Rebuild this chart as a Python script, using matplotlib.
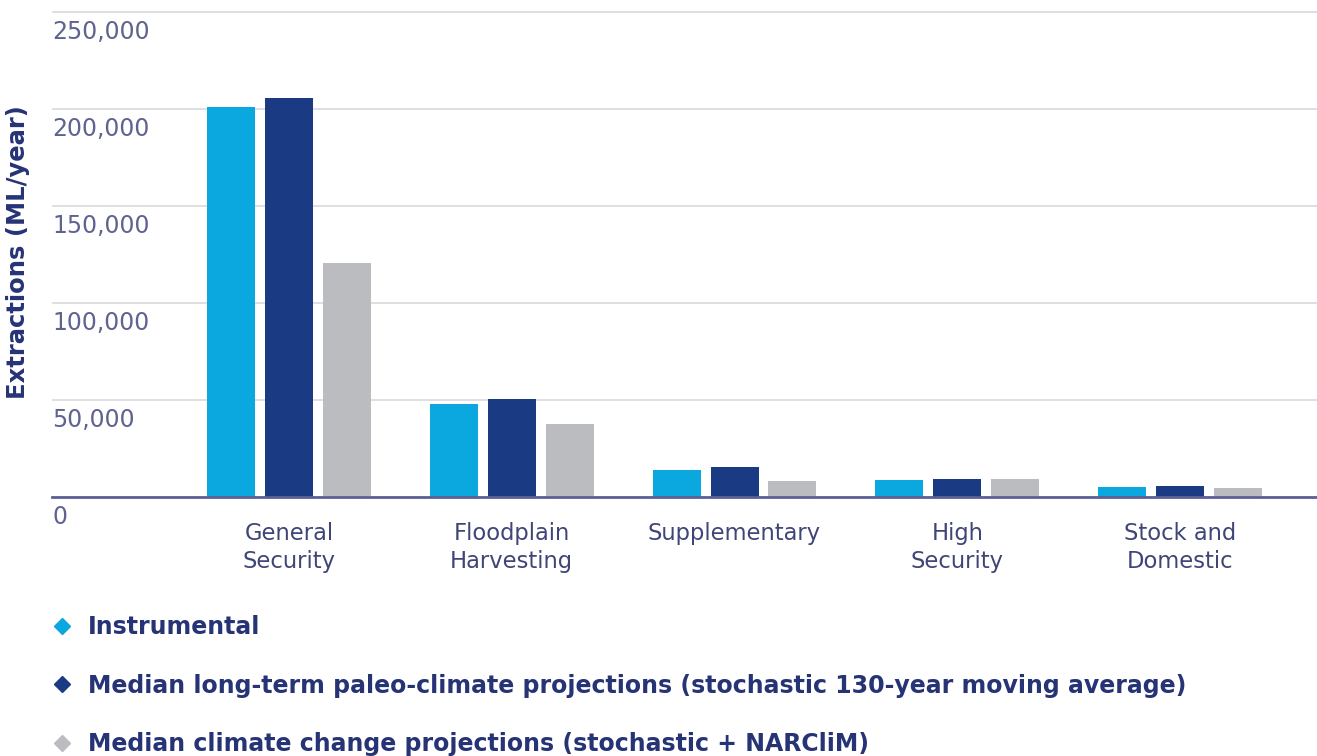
import matplotlib.pyplot as plt
from matplotlib.lines import Line2D
import numpy as np

categories = ['General\nSecurity', 'Floodplain\nHarvesting', 'Supplementary',
              'High\nSecurity', 'Stock and\nDomestic']
instrumental = [201000, 48000, 14000, 8800, 5200]
paleo = [205500, 50500, 15500, 9300, 5700]
climate_change = [120500, 37500, 8200, 9200, 4800]
series_names = ['Instrumental',
                'Median long-term paleo-climate projections (stochastic 130-year moving average)',
                'Median climate change projections (stochastic + NARCliM)']
y_ticks = [0, 50000, 100000, 150000, 200000, 250000]

colors = ['#0ba7df', '#1b3a84', '#bbbcc0']
tick_color = '#5f6390'
navy = '#263375'

fig = plt.figure(figsize=(13.17, 7.56), dpi=100)
ax = fig.add_axes([52 / 1317, 1 - 497 / 756, 1 - 52 / 1317, (497 - 2.3) / 756])

x = np.arange(len(categories))
step = 58 / 223
width = 48 / 223
for i, vals in enumerate([instrumental, paleo, climate_change]):
    ax.bar(x + (i - 1) * step, vals, width, color=colors[i], zorder=2)

ax.set_xlim(-1.063, 4.614)
ax.set_ylim(0, 255000)

for s in ['top', 'right', 'left']:
    ax.spines[s].set_visible(False)
ax.spines['bottom'].set_color('#5c6096')
ax.spines['bottom'].set_linewidth(2)
ax.spines['bottom'].set_zorder(3)

ax.set_yticks(y_ticks)
ax.yaxis.grid(True, color='#dcdcdf', linewidth=1.3, zorder=0)
ax.tick_params(axis='y', length=0, labelleft=False)
for v in y_ticks:
    ax.annotate(f'{v:,}', xy=(0, v), xycoords=('axes fraction', 'data'),
                xytext=(0, -6), textcoords='offset points',
                ha='left', va='top', fontsize=17, color=tick_color)

ax.set_xticks(x)
ax.set_xticklabels(categories, fontsize=16.3, color='#3f4577', linespacing=1.3)
ax.tick_params(axis='x', length=0, pad=18)

fig.text(18 / 1317, 1 - 252 / 756, 'Extractions (ML/year)', rotation=90,
         ha='center', va='center', fontsize=17.5, fontweight='bold', color=navy)

handles = [Line2D([], [], marker='D', linestyle='none', markersize=8,
                  color=c) for c in colors]
leg = fig.legend(handles, series_names, loc='upper left',
                 bbox_to_anchor=(50 / 1317, 1 - 615 / 756), frameon=False,
                 fontsize=17, labelspacing=1.47, handletextpad=0.6,
                 handlelength=1.0, borderaxespad=0, borderpad=0)
for t in leg.get_texts():
    t.set_fontweight('bold')
    t.set_color(navy)

fig.savefig('out.png', dpi=100)
